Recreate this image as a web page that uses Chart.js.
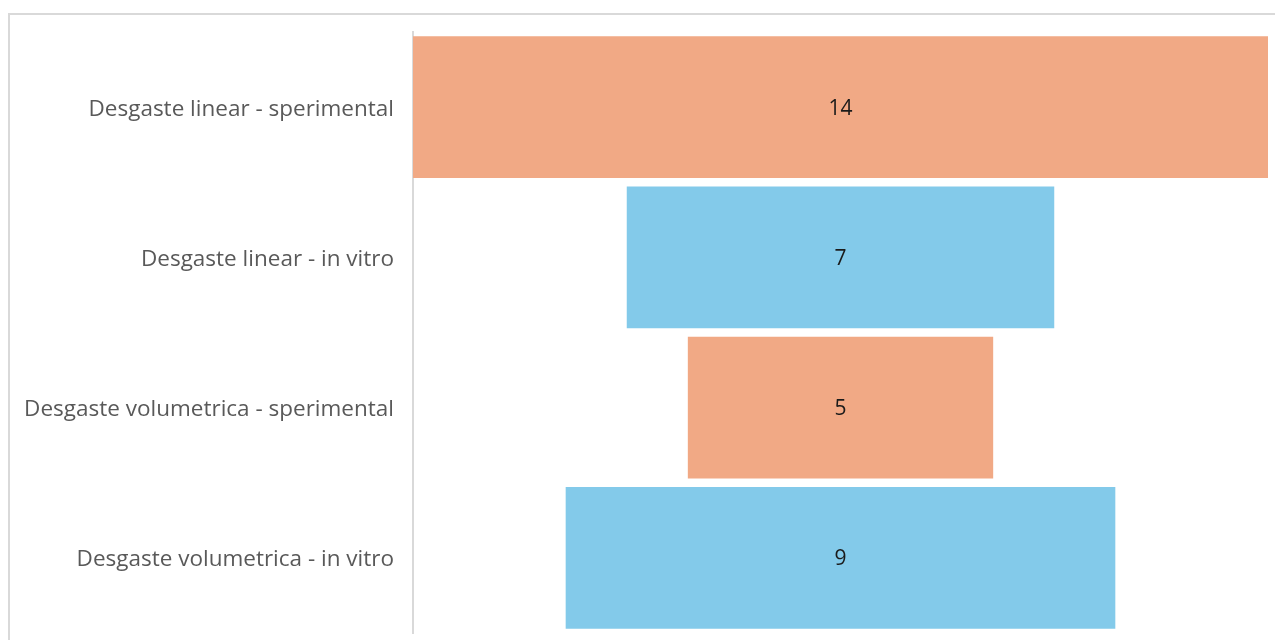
<!DOCTYPE html>
<html>
<head>
<meta charset="utf-8">
<script src="https://cdn.jsdelivr.net/npm/chart.js@4/dist/chart.umd.min.js"></script>
<style>
  html, body { margin: 0; padding: 0; background: #ffffff; overflow: hidden; }
  canvas { display: block; }
</style>
</head>
<body>
<canvas id="funnel" width="1275" height="640"></canvas>
<script>
// Funnel stages, top to bottom
const categories = [
  'Desgaste linear - sperimental',
  'Desgaste linear - in vitro',
  'Desgaste volumetrica - sperimental',
  'Desgaste volumetrica - in vitro'
];
const values = [14, 7, 5, 9];
const barColors = ['#F1A985', '#83CAEA', '#F1A985', '#83CAEA'];

const FONT = '"Open Sans", "Liberation Sans", sans-serif';

// Each stage is a floating bar centred on zero
const spans = values.map(v => [-v / 2, v / 2]);
const maxVal = Math.max(...values);

// Outer frame of the chart area
const framePlugin = {
  id: 'frame',
  beforeDraw(chart) {
    const ctx = chart.ctx;
    ctx.save();
    ctx.strokeStyle = '#d9d9d9';
    ctx.lineWidth = 2;
    ctx.strokeRect(9, 14, chart.width + 20, chart.height + 20);
    ctx.restore();
  }
};

// Value text in the middle of each bar
const valueLabels = {
  id: 'valueLabels',
  afterDatasetsDraw(chart) {
    const ctx = chart.ctx;
    const meta = chart.getDatasetMeta(0);
    ctx.save();
    ctx.font = '21px ' + FONT;
    ctx.fillStyle = '#1a1a1a';
    ctx.textAlign = 'center';
    ctx.textBaseline = 'middle';
    meta.data.forEach((bar, i) => {
      const p = bar.getProps(['x', 'y', 'base'], true);
      ctx.fillText(String(values[i]), (p.x + p.base) / 2, p.y + 1.5);
    });
    ctx.restore();
  }
};

new Chart(document.getElementById('funnel'), {
  type: 'bar',
  data: {
    labels: categories,
    datasets: [{
      data: spans,
      backgroundColor: barColors,
      borderWidth: 0,
      barPercentage: 0.945,
      categoryPercentage: 1.0
    }]
  },
  options: {
    indexAxis: 'y',
    responsive: false,
    animation: false,
    layout: { padding: { top: 32, bottom: 7, right: 7, left: 0 } },
    plugins: {
      legend: { display: false },
      tooltip: { enabled: false }
    },
    scales: {
      x: {
        display: false,
        min: -maxVal / 2,
        max: maxVal / 2
      },
      y: {
        afterFit(scale) {
          scale.width = 413;
          scale.paddingTop = 0;
          scale.paddingBottom = 0;
        },
        grid: { display: false, drawTicks: false },
        border: { display: true, color: '#d9d9d9', width: 2 },
        ticks: {
          padding: 19,
          labelOffset: 2,
          color: '#595959',
          font: { family: FONT, size: 22.5 }
        }
      }
    }
  },
  plugins: [framePlugin, valueLabels]
});
</script>
</body>
</html>
